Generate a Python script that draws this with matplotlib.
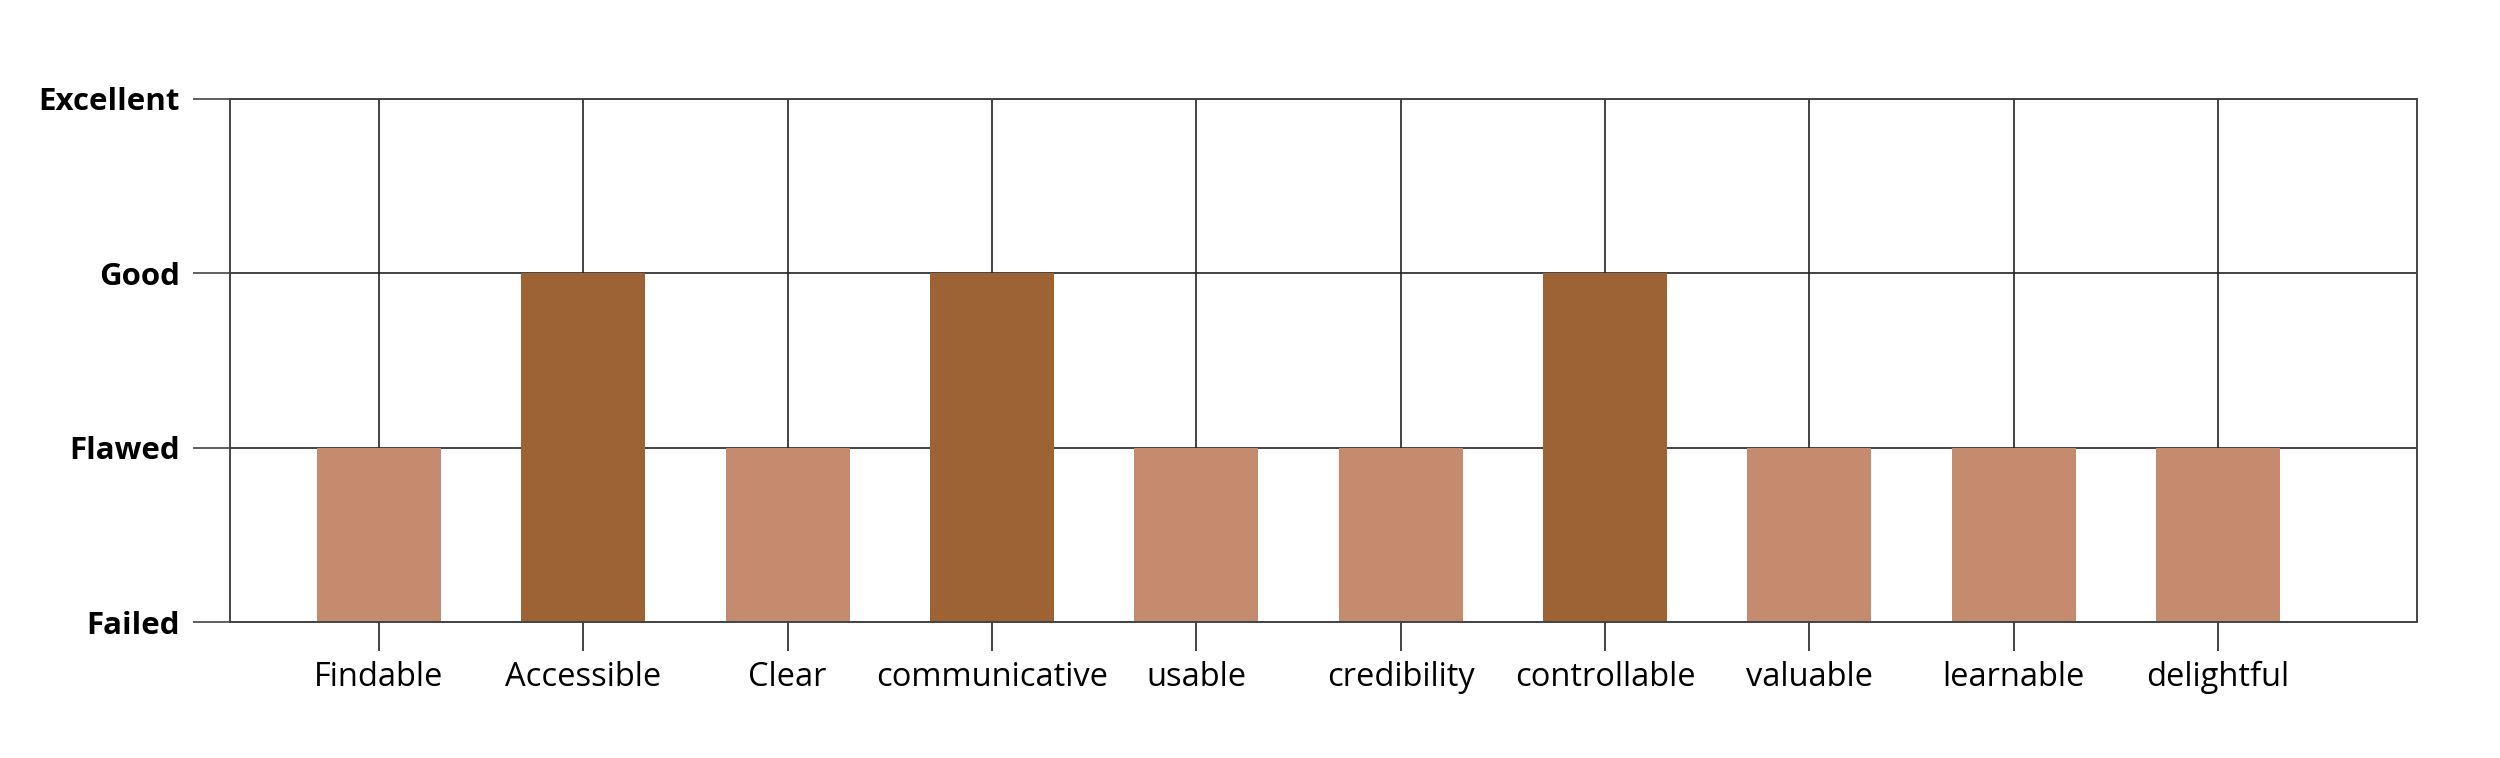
import matplotlib
matplotlib.use("Agg")
import matplotlib.pyplot as plt
import numpy as np

# usability heuristics rated on a 4-level scale
criteria = ["Findable", "Accessible", "Clear", "communicative", "usable",
            "credibility", "controllable", "valuable", "learnable", "delightful"]
levels = ["Failed", "Flawed", "Good", "Excellent"]
scores = [1, 2, 1, 2, 1, 1, 2, 1, 1, 1]      # index into levels

light = "#C48B6E"
dark = "#9D6335"

plt.rcParams["font.family"] = ["Open Sans", "DejaVu Sans"]

fig = plt.figure(figsize=(25, 7.58), dpi=100)
ax = fig.add_axes([0.092, 0.1794, 0.8748, 0.69])

x = np.arange(len(criteria))
colors = [dark if s >= 2 else light for s in scores]
ax.bar(x, scores, width=0.607, color=colors, zorder=2)

ax.set_xlim(-0.729, 9.974)
ax.set_ylim(0, 3)

ax.set_xticks(x)
ax.set_xticklabels(criteria, fontsize=23.5)
ax.set_yticks(range(len(levels)))
ax.set_yticklabels(levels, fontsize=22.5, fontweight="bold")

ax.tick_params(axis="x", length=21, width=1.2, color="#222222", pad=7)
ax.tick_params(axis="y", length=27, width=1.2, color="#444444", pad=9)

ax.set_axisbelow(True)
ax.grid(True, color="#222222", linewidth=1.2)
for sp in ax.spines.values():
    sp.set_color("#444444")
    sp.set_linewidth(1.4)

fig.savefig("out.png", dpi=100, facecolor="white")
